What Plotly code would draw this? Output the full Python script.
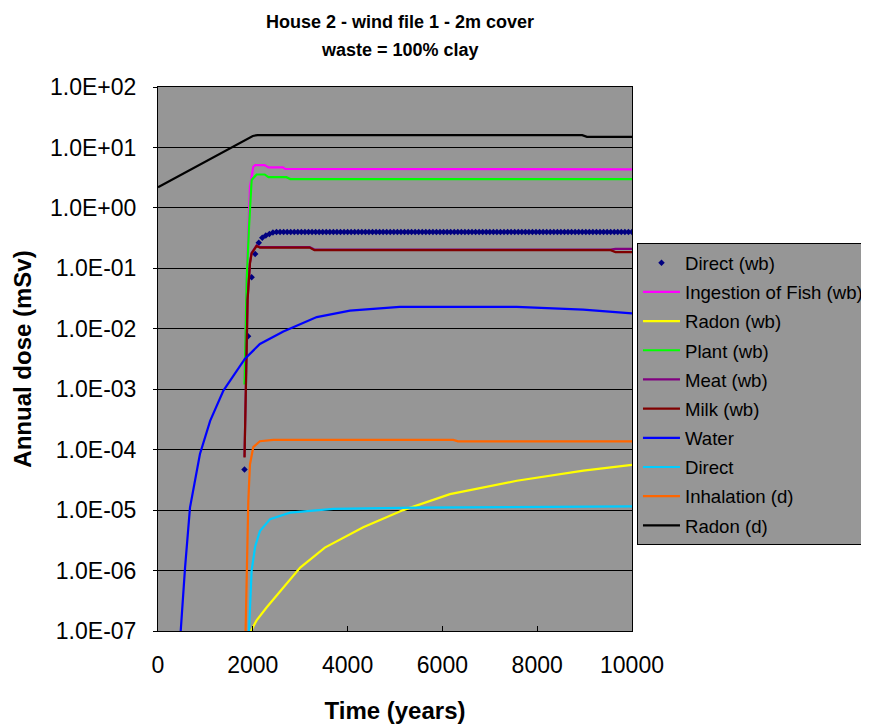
import plotly.graph_objects as go

# ---------------- data ----------------
title_line1 = "House 2 - wind file 1 - 2m cover"
title_line2 = "waste = 100% clay"
x_title = "Time (years)"
y_title = "Annual dose (mSv)"

y_tick_vals = [1e-7, 1e-6, 1e-5, 1e-4, 1e-3, 1e-2, 1e-1, 1e0, 1e1, 1e2]
y_tick_text = ["1.0E-07", "1.0E-06", "1.0E-05", "1.0E-04", "1.0E-03",
               "1.0E-02", "1.0E-01", "1.0E+00", "1.0E+01", "1.0E+02"]
x_tick_vals = [0, 2000, 4000, 6000, 8000, 10000]

# Direct (wb): markers on a 75-year output grid
direct_wb_t = list(range(1825, 10001, 75))
direct_wb_v = [4.7e-5, 7.5e-3, 7.1e-2, 0.173, 0.266, 0.32, 0.35, 0.37, 0.39] + \
              [0.40] * (len(direct_wb_t) - 9)

fish_t = [1825, 1870, 1940, 2010, 2050, 2250, 2330, 2640, 2680, 3980, 4020, 10000]
fish_v = [1.5e-3, 0.063, 2.2, 4.8, 5.1, 5.1, 4.67, 4.67, 4.43, 4.43, 4.33, 4.33]

radon_wb_t = [1930, 2080, 2290, 2645, 3000, 3520, 4330, 5175, 6160, 7570, 8975, 10000]
radon_wb_v = [9e-8, 1.5e-7, 2.45e-7, 5.25e-7, 1.12e-6, 2.4e-6, 5.2e-6, 1.0e-5,
              1.84e-5, 3.06e-5, 4.5e-5, 5.6e-5]

plant_t = [1825, 1870, 1920, 1975, 2080, 2250, 2330, 2710, 2790, 10000]
plant_v = [1.2e-3, 0.063, 0.48, 2.9, 3.57, 3.57, 3.22, 3.22, 3.0, 3.0]

meat_t = [1825, 1890, 1940, 1975, 2080, 2150, 3200, 3300, 9550, 9650, 10000]
meat_v = [7.6e-5, 0.031, 0.125, 0.18, 0.24, 0.225, 0.225, 0.205, 0.205, 0.21, 0.21]

milk_t = [1825, 1890, 1940, 1975, 2080, 2150, 3200, 3300, 9550, 9650, 10000]
milk_v = [7.4e-5, 0.03, 0.12, 0.177, 0.234, 0.22, 0.22, 0.20, 0.20, 0.186, 0.186]

water_t = [460, 570, 675, 885, 1100, 1380, 1835, 2150, 2645, 3350, 4050, 5100,
           7570, 8970, 10000]
water_v = [6e-8, 1.1e-6, 1.1e-5, 8.5e-5, 3.0e-4, 9.5e-4, 3.2e-3, 5.6e-3, 9.0e-3,
           1.56e-2, 2.0e-2, 2.3e-2, 2.3e-2, 2.07e-2, 1.8e-2]

direct_t = [1915, 1975, 2050, 2150, 2365, 2785, 3700, 5460, 10000]
direct_v = [8e-8, 1e-6, 2.5e-6, 4.5e-6, 7.1e-6, 9.1e-6, 1.05e-5, 1.1e-5, 1.15e-5]

inhal_t = [1840, 1905, 1940, 2010, 2150, 2430, 6230, 6330, 10000]
inhal_v = [5e-8, 1.4e-5, 5.7e-5, 1.1e-4, 1.38e-4, 1.45e-4, 1.45e-4, 1.37e-4, 1.37e-4]

radon_d_t = [0, 2000, 2100, 8950, 9050, 10000]
radon_d_v = [2.2, 15.5, 16.0, 16.0, 15.0, 15.0]

# ---------------- figure ----------------
FONT = "Liberation Sans, Arial, sans-serif"
GRAY = "#969696"

line_series = [
    ("Ingestion of Fish (wb)", fish_t, fish_v, "#FF00FF"),
    ("Radon (wb)", radon_wb_t, radon_wb_v, "#FFFF00"),
    ("Plant (wb)", plant_t, plant_v, "#00FF00"),
    ("Meat (wb)", meat_t, meat_v, "#800080"),
    ("Milk (wb)", milk_t, milk_v, "#800000"),
    ("Water", water_t, water_v, "#0000FF"),
    ("Direct", direct_t, direct_v, "#00CCFF"),
    ("Inhalation (d)", inhal_t, inhal_v, "#FF6600"),
    ("Radon (d)", radon_d_t, radon_d_v, "#000000"),
]

fig = go.Figure()
fig.add_trace(go.Scatter(
    x=direct_wb_t, y=direct_wb_v, mode="markers", name="Direct (wb)",
    legendgroup="g0",
    marker=dict(symbol="diamond", size=5, color="#000080"),
))
for i, (name, t, v, col) in enumerate(line_series, start=1):
    fig.add_trace(go.Scatter(
        x=t, y=v, mode="lines", name=name, legendgroup=f"g{i}",
        line=dict(color=col, width=2.2),
    ))

# the page body adds an 8px margin, so the figure is 8px smaller
W, H = 861, 716
fig.update_layout(
    width=W, height=H,
    paper_bgcolor="white", plot_bgcolor=GRAY,
    margin=dict(l=150, r=237, t=79, b=93, autoexpand=False),
    font=dict(family=FONT, color="black"),
    title=dict(
        text=f"<b>{title_line1}</b>",
        x=392 / W, xanchor="center", y=1 - 14 / H, yanchor="middle",
        font=dict(size=18, family=FONT, color="black"),
    ),
    annotations=[dict(
        text=f"<b>{title_line2}</b>", xref="paper", yref="paper",
        x=(392 - 150) / 474, y=1 + (79 - 42) / 544,
        xanchor="center", yanchor="middle", showarrow=False,
        font=dict(size=18, family=FONT, color="black"),
    )],
    showlegend=True,
    legend=dict(
        x=1.0105, xanchor="left", y=0.713, yanchor="top",
        bgcolor=GRAY, bordercolor="black", borderwidth=1,
        font=dict(size=18.6, family=FONT, color="black"),
        traceorder="grouped", tracegroupgap=2, itemwidth=37,
    ),
)

fig.update_xaxes(
    range=[0, 10000], tickvals=x_tick_vals, tickformat="d",
    showgrid=False, zeroline=False,
    showline=True, mirror=True, linecolor="black", linewidth=1,
    ticks="inside", ticklen=5, tickcolor="black",
    ticklabelstandoff=13,
    tickfont=dict(size=23, family=FONT, color="black"),
    title=dict(text=f"<b>{x_title}</b>", standoff=25,
               font=dict(size=24, family=FONT, color="black")),
)
fig.update_yaxes(
    type="log", range=[-7, 2], tickvals=y_tick_vals, ticktext=y_tick_text,
    showgrid=True, gridcolor="black", gridwidth=1, zeroline=False,
    showline=True, mirror=True, linecolor="black", linewidth=1,
    ticks="outside", ticklen=4, tickcolor="black",
    ticklabelstandoff=12,
    tickfont=dict(size=23, family=FONT, color="black"),
    title=dict(text=f"<b>{y_title}</b>", standoff=11,
               font=dict(size=24, family=FONT, color="black")),
)

fig.write_html("out.html")
